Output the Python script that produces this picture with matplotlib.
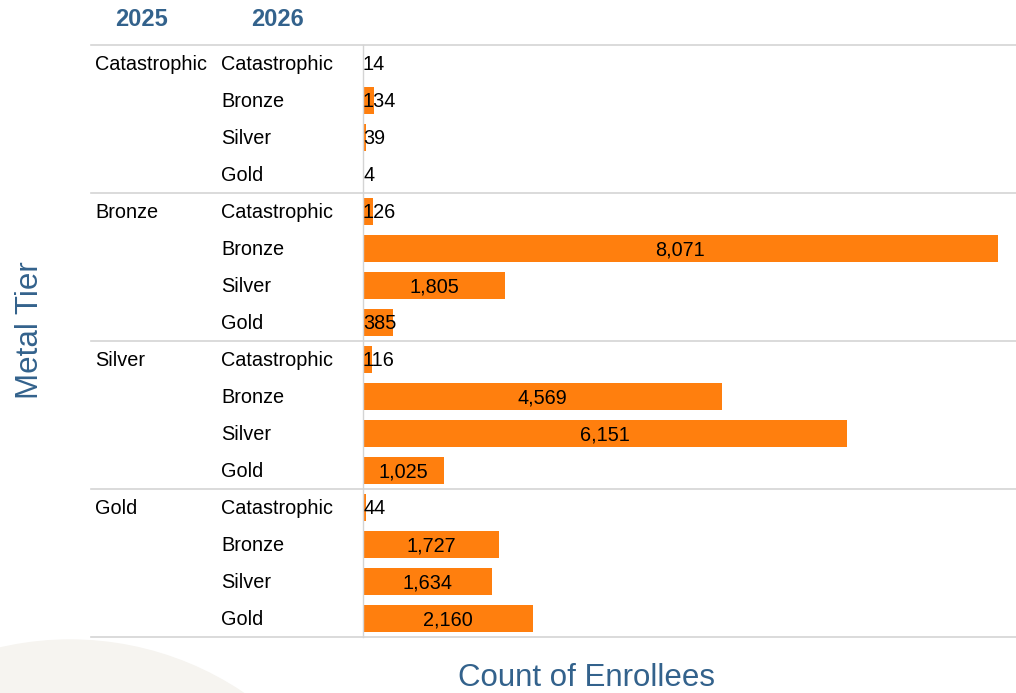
import matplotlib.pyplot as plt
import matplotlib.transforms as mtransforms
from matplotlib.patches import Ellipse
from matplotlib.lines import Line2D

plt.rcParams['font.family'] = ['Liberation Sans', 'DejaVu Sans']

tiers = ['Catastrophic', 'Bronze', 'Silver', 'Gold']
# enrollees by 2026 tier, one list per 2025 tier
from_catastrophic = [14, 134, 39, 4]
from_bronze = [126, 8071, 1805, 385]
from_silver = [116, 4569, 6151, 1025]
from_gold = [44, 1727, 1634, 2160]

groups = [from_catastrophic, from_bronze, from_silver, from_gold]

BLUE = '#33628c'
ORANGE = '#ff7f0e'
GRID = '#d4d4d4'

W, H = 1016, 693
fig = plt.figure(figsize=(W / 100, H / 100), dpi=100)
fig.patch.set_facecolor('white')

# soft background circle in the lower left corner
fig.patches.append(Ellipse((70 / W, -257 / H), 620 / W, 620 / H,
                           transform=fig.transFigure, color='#f6f4f0',
                           zorder=0))

ax = fig.add_axes([363 / W, (H - 637) / H, (W - 363) / W, 592 / H])
ax.set_facecolor('none')

values = [v for g in groups for v in g]
rows = list(range(len(values)))
ax.barh(rows, values, height=0.73, color=ORANGE, zorder=2)
ax.set_xlim(0, 8300)
ax.set_ylim(len(values) - 0.5, -0.5)
ax.set_xticks([])
ax.set_yticks([])
for side in ['top', 'right', 'bottom']:
    ax.spines[side].set_visible(False)
ax.spines['left'].set_color(GRID)
ax.spines['left'].set_linewidth(1)

# nudge row text down a pixel so it sits on the bar middle
nudge = mtransforms.ScaledTranslation(0, -1.2 / 100, fig.dpi_scale_trans)

# value labels: centred on the bar, or from the axis when the bar is too short
for r, v in zip(rows, values):
    if v < 600:
        ax.text(0, r, f'{v:,}', ha='left', va='center', fontsize=14.3,
                color='black', zorder=3, transform=ax.transData + nudge)
    else:
        ax.text(v / 2, r, f'{v:,}', ha='center', va='center', fontsize=14.3,
                color='black', zorder=3, transform=ax.transData + nudge)

# row headers
trans = mtransforms.blended_transform_factory(fig.transFigure, ax.transData)
for gi, g in enumerate(groups):
    top = gi * len(tiers)
    ax.text(95 / W, top, tiers[gi], transform=trans + nudge, ha='left',
            va='center', fontsize=14.3, color='black', clip_on=False)
    for ti, t in enumerate(tiers):
        ax.text(221 / W, top + ti, t, transform=trans + nudge, ha='left',
                va='center', fontsize=14.3, color='black', clip_on=False)

# group separators
for b in range(len(groups) + 1):
    y = b * len(tiers) - 0.5
    fig.add_artist(Line2D([91 / W, 1.0], [y, y], transform=trans,
                          color=GRID, linewidth=1.2, zorder=1))

# column headers and axis titles
fig.text(142 / W, 1 - 19.5 / H, '2025', ha='center', va='center',
         fontsize=17, fontweight='bold', color=BLUE)
fig.text(278 / W, 1 - 19.5 / H, '2026', ha='center', va='center',
         fontsize=17, fontweight='bold', color=BLUE)
fig.text(30 / W, 1 - 330 / H, 'Metal Tier', rotation=90, ha='center',
         va='center', fontsize=22.5, color=BLUE)
fig.text(586 / W, 1 - 678 / H, 'Count of Enrollees', ha='center',
         va='center', fontsize=22.5, color=BLUE)

fig.savefig('out.png', dpi=100, facecolor='white')
